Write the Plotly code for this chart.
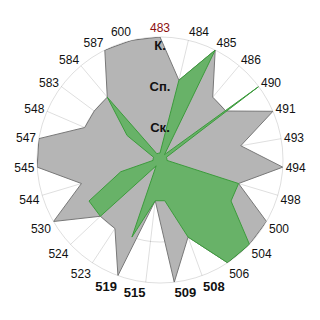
import plotly.graph_objects as go

categories = ["483", "484", "485", "486", "490", "491", "493", "494", "498", "500",
              "504", "506", "508", "509", "515", "519", "523", "524", "530", "544",
              "545", "547", "548", "583", "584", "587", "600"]

gray_values = [3, 2, 3, 2, 2, 3, 2, 3, 2, 3,
               3, 3, 2, 3, 1, 3, 2, 2, 3, 2,
               3, 3, 2, 2, 2, 3, 3]

green_values = [0.17, 2, 3, 0.17, 3, 0.17, 0.17, 0.17, 2, 2,
                3, 3, 2, 1, 1, 2, 0.17, 2, 2, 1,
                0.17, 0.17, 0.17, 1, 2, 0.17, 0.17]

level_values = [1, 2, 3]
level_labels = ["Ск.", "Сп.", "К."]
label_offset = 0.07

bold_cats = {"519", "515", "509", "508"}
red_cats = {"483"}

def fmt(c):
    if c in red_cats:
        return f"<span style='color:#8c0f0f'>{c}</span>"
    if c in bold_cats:
        return f"<b><span style='font-size:13px'>{c}</span></b>"
    return c

ticktext = [fmt(c) for c in categories]

fig = go.Figure()
fig.add_trace(go.Scatterpolar(
    r=gray_values + [gray_values[0]],
    theta=categories + [categories[0]],
    mode="lines", fill="toself",
    fillcolor="rgb(181,181,181)",
    line=dict(color="rgb(120,120,120)", width=1),
    showlegend=False, hoverinfo="skip"))
fig.add_trace(go.Scatterpolar(
    r=green_values + [green_values[0]],
    theta=categories + [categories[0]],
    mode="lines", fill="toself",
    fillcolor="rgb(104,178,104)",
    line=dict(color="rgb(60,155,60)", width=1),
    showlegend=False, hoverinfo="skip"))
fig.add_trace(go.Scatterpolar(
    r=[v - label_offset for v in level_values],
    theta=[categories[0]] * len(level_values),
    mode="text", text=[f"<b>{t}</b>" for t in level_labels],
    textposition="bottom center",
    textfont=dict(family="Liberation Sans, Arial", size=13, color="#111"),
    showlegend=False, hoverinfo="skip"))

grid = "rgba(0,0,0,0.13)"
fig.update_layout(
    width=320, height=320,
    margin=dict(l=37, r=37, t=37, b=37),
    paper_bgcolor="white",
    font=dict(family="Liberation Sans, Arial", size=12, color="#111"),
    polar=dict(
        bgcolor="white",
        angularaxis=dict(
            direction="clockwise", rotation=90,
            categoryorder="array", categoryarray=categories,
            tickmode="array", tickvals=categories, ticktext=ticktext,
            showline=True, linecolor=grid, linewidth=1,
            gridcolor=grid, ticks="",
            tickfont=dict(size=12, color="#111")),
        radialaxis=dict(
            range=[0, 3], tickvals=level_values,
            showticklabels=False, showline=False, ticks="",
            gridcolor=grid),
    ),
)

fig.write_html("out.html")
